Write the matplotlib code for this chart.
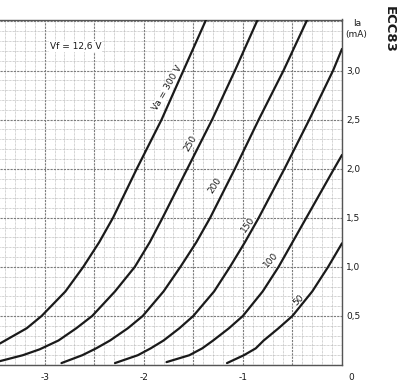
import matplotlib
matplotlib.use('Agg')
import matplotlib.pyplot as plt
from matplotlib.ticker import MultipleLocator, FuncFormatter

# ── Data: Ia (mA) against Vg (V) ──────────────────────────────────────────────
va_labels = ["Va = 300 V", "250", "200", "150", "100", "50"]

vg_300 = [-3.45, -3.18, -3.03, -2.79, -2.61, -2.45, -2.31, -2.07, -1.82, -1.60, -1.37]
ia_300 = [0.22, 0.375, 0.50, 0.75, 1.00, 1.25, 1.50, 2.00, 2.50, 3.00, 3.52]

vg_250 = [-3.45, -3.22, -3.05, -2.86, -2.68, -2.52, -2.29, -2.09, -1.94, -1.81, -1.56, -1.31, -1.08, -0.85]
ia_250 = [0.04, 0.10, 0.16, 0.25, 0.375, 0.50, 0.75, 1.00, 1.25, 1.50, 2.00, 2.50, 3.00, 3.52]

vg_200 = [-2.83, -2.62, -2.48, -2.34, -2.16, -2.01, -1.80, -1.63, -1.47, -1.33, -1.08, -0.84, -0.59, -0.35]
ia_200 = [0.02, 0.10, 0.17, 0.25, 0.375, 0.50, 0.75, 1.00, 1.25, 1.50, 2.00, 2.50, 3.00, 3.52]

vg_150 = [-2.29, -2.06, -1.93, -1.80, -1.64, -1.50, -1.29, -1.13, -0.98, -0.84, -0.58, -0.33, -0.09, 0.0]
ia_150 = [0.02, 0.10, 0.17, 0.25, 0.375, 0.50, 0.75, 1.00, 1.25, 1.50, 2.00, 2.50, 3.00, 3.22]

vg_100 = [-1.77, -1.54, -1.41, -1.30, -1.14, -1.00, -0.80, -0.64, -0.50, -0.36, -0.08, 0.0]
ia_100 = [0.03, 0.10, 0.17, 0.25, 0.375, 0.50, 0.75, 1.00, 1.25, 1.50, 2.00, 2.14]

vg_50 = [-1.16, -0.99, -0.87, -0.79, -0.64, -0.50, -0.30, -0.14, 0.0]
ia_50 = [0.02, 0.10, 0.17, 0.25, 0.375, 0.50, 0.75, 1.00, 1.24]

# where each curve label sits (Vg, Ia) and its angle
label_vg = [-1.76, -1.53, -1.28, -0.95, -0.72, -0.44]
label_ia = [2.82, 2.26, 1.83, 1.43, 1.07, 0.66]
label_rot = [60, 60, 57, 54, 48, 45]

curves = [(vg_300, ia_300), (vg_250, ia_250), (vg_200, ia_200),
          (vg_150, ia_150), (vg_100, ia_100), (vg_50, ia_50)]

# ── Styling ───────────────────────────────────────────────────────────────────
ink = "#1a1a1a"
plt.rcParams['font.family'] = 'DejaVu Sans'
plt.rcParams['font.size'] = 6

fig = plt.figure(figsize=(4.0, 3.9), dpi=100)
ax = fig.add_axes([0.0, 0.064, 0.855, 0.886])

ax.set_xlim(-3.45, 0.0)
ax.set_ylim(0.0, 3.52)

# graph-paper grid
ax.xaxis.set_major_locator(MultipleLocator(0.5))
ax.xaxis.set_minor_locator(MultipleLocator(0.1))
ax.yaxis.set_major_locator(MultipleLocator(0.5))
ax.yaxis.set_minor_locator(MultipleLocator(0.1))
ax.grid(True, which='minor', color='#a8a8a8', linewidth=0.5, linestyle=(0, (1, 1)))
ax.grid(True, which='major', color='#7c7c7c', linewidth=0.8, linestyle=(0, (2, 1)))
ax.set_axisbelow(True)

for side in ['top', 'right', 'bottom']:
    ax.spines[side].set_color('#555555')
    ax.spines[side].set_linewidth(1.0)
ax.spines['left'].set_visible(False)

# ── Curves ────────────────────────────────────────────────────────────────────
for (vg, ia) in curves:
    ax.plot(vg, ia, color=ink, linewidth=1.6, solid_joinstyle='round',
            solid_capstyle='round', zorder=3)

for txt, x, y, rot in zip(va_labels, label_vg, label_ia, label_rot):
    ax.text(x, y, txt, rotation=rot, ha='center', va='center', fontsize=6.5,
            color=ink, rotation_mode='anchor', zorder=2.5,
            bbox=dict(facecolor='white', edgecolor='none', pad=0.3))

ax.text(-2.95, 3.245, "Vf = 12,6 V", ha='left', va='center', fontsize=6.5, color=ink,
        zorder=4, bbox=dict(facecolor='white', edgecolor='none', pad=0.5))

# ── Tick labels ───────────────────────────────────────────────────────────────
def x_fmt(v, pos):
    if abs(v - round(v)) < 1e-6 and round(v) != 0:
        return "-%d" % abs(round(v))
    return ""

def y_fmt(v, pos):
    if v < 0.25 or v > 3.2:
        return ""
    return ("%.1f" % v).replace('.', ',')

ax.xaxis.set_major_formatter(FuncFormatter(x_fmt))
ax.yaxis.set_major_formatter(FuncFormatter(y_fmt))
ax.yaxis.tick_right()
ax.tick_params(axis='both', which='both', length=0, colors=ink, labelsize=6.5)
ax.tick_params(axis='x', pad=6)
ax.tick_params(axis='y', pad=3)
for lbl in ax.get_yticklabels():
    lbl.set_ha('left')

fig.text(351 / 400, 1 - 377 / 390, "0", ha='center', va='center', fontsize=6.5, color=ink)
fig.text(357 / 400, 1 - 24 / 390, "Ia", ha='center', va='center', fontsize=6.5, color=ink)
fig.text(356 / 400, 1 - 35 / 390, "(mA)", ha='center', va='center', fontsize=6.5, color=ink)
fig.text(389 / 400, 1 - 29 / 390, "ECC83", rotation=270, ha='center', va='center',
         fontsize=9.5, fontweight='bold', color=ink)

fig.savefig("out.png", dpi=100, facecolor='white')
